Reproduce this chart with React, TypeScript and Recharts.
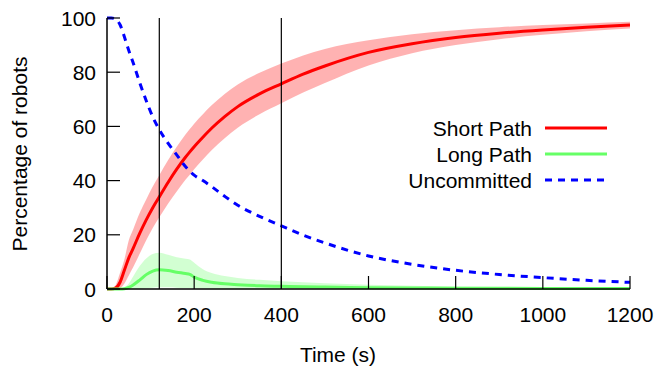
import React from 'react';
import { ComposedChart, Line, Area, XAxis, YAxis, ReferenceLine } from 'recharts';

const times = [0, 10, 20, 30, 40, 50, 60, 75, 90, 105, 120, 140, 160, 180, 190, 200, 220, 240, 270, 300, 350, 400, 450, 500, 600, 700, 800, 900, 1000, 1100, 1200];
const shortMean = [0, 0, 0.4, 2.5, 7, 11.5, 15, 20.5, 25.5, 30, 34, 39.3, 44.2, 48.6, 50.6, 52.5, 56, 59.3, 63.6, 67.3, 72, 75.7, 79.3, 82.3, 87.3, 90.5, 92.8, 94.4, 95.6, 96.6, 97.4];
const shortLow = [0, 0, 0, 0.3, 2, 5, 8, 13, 18, 22.5, 26.5, 31.5, 36, 40.3, 42.2, 44.2, 47.8, 51.2, 55.6, 59.5, 64.5, 68.5, 72.5, 76, 82.5, 87, 90, 92.2, 93.8, 95.1, 96.1];
const shortHigh = [0, 0, 1.5, 6, 11, 18, 22, 28, 33, 37.8, 42, 47.5, 52.5, 57, 59, 61, 64.5, 67.8, 72, 75.5, 79.8, 83.2, 86.2, 88.6, 91.8, 94, 95.5, 96.6, 97.4, 98, 98.6];
const longMean = [0, 0, 0, 0, 0.1, 0.6, 1.5, 3.3, 5.3, 6.6, 7.1, 6.8, 6.2, 5.7, 5.4, 4.4, 3.2, 2.5, 1.9, 1.6, 1.2, 1, 0.8, 0.7, 0.5, 0.4, 0.3, 0.25, 0.2, 0.2, 0.15];
const longLow = [0, 0, 0, 0, 0, 0, 0, 0.1, 0.3, 0.5, 0.6, 0.6, 0.5, 0.4, 0.4, 0.3, 0.2, 0.1, 0, 0, 0, 0, 0, 0, 0, 0, 0, 0, 0, 0, 0];
const longHigh = [0, 0, 0, 0.1, 0.6, 2, 4.6, 8.5, 11.3, 12.9, 13.4, 12.6, 11.7, 11.2, 10.9, 9.7, 7.3, 5.9, 4.8, 4.1, 3.4, 2.9, 2.5, 2.1, 1.6, 1.2, 0.9, 0.7, 0.5, 0.4, 0.3];
const uncommitted = [100, 100, 99.6, 97.5, 93, 88, 83.5, 76.2, 69.5, 63.5, 58.8, 53.8, 49.5, 45.2, 43.5, 42, 40, 37.8, 34.2, 30.9, 26.8, 23.3, 19.9, 17, 12.2, 9.1, 6.9, 5.35, 4.2, 3.2, 2.45];

const xTicks = [0, 200, 400, 600, 800, 1000, 1200];
const yTicks = [0, 20, 40, 60, 80, 100];
const markerTimes = [120, 400];
const legendItems = [
  { label: 'Short Path', color: '#ff0000', dash: undefined as string | undefined },
  { label: 'Long Path', color: '#66ff66', dash: undefined as string | undefined },
  { label: 'Uncommitted', color: '#0000ff', dash: '7 6' },
];

const data = times.map((t, i) => ({
  t,
  sMean: shortMean[i],
  sBand: [shortLow[i], shortHigh[i]],
  lMean: longMean[i],
  lBand: [longLow[i], longHigh[i]],
  unc: uncommitted[i],
}));

const FONT = '"Liberation Sans", Arial, sans-serif';
const FS = 21;
const TICK_LEN = 13;

const BottomTick = (props: any) => {
  const { x, y, payload } = props;
  return (
    <g>
      <line x1={x} y1={y} x2={x} y2={y - TICK_LEN} stroke="#000" strokeWidth={1.2} />
      <text x={x} y={y + 33} textAnchor="middle" fontSize={FS} fontFamily={FONT} fill="#000">
        {payload.value}
      </text>
    </g>
  );
};
const TopTick = (props: any) => {
  const { x, y } = props;
  return <line x1={x} y1={y} x2={x} y2={y + TICK_LEN} stroke="#000" strokeWidth={1.2} />;
};
const LeftTick = (props: any) => {
  const { x, y, payload } = props;
  return (
    <g>
      <line x1={x} y1={y} x2={x + TICK_LEN} y2={y} stroke="#000" strokeWidth={1.2} />
      <text x={x - 11} y={y + 7.5} textAnchor="end" fontSize={FS} fontFamily={FONT} fill="#000">
        {payload.value}
      </text>
    </g>
  );
};
const RightTick = (props: any) => {
  const { x, y } = props;
  return <line x1={x} y1={y} x2={x - TICK_LEN} y2={y} stroke="#000" strokeWidth={1.2} />;
};

export default function App() {
  return (
    <div style={{ position: 'absolute', left: 0, top: 0, width: 663, height: 366, background: '#fff' }}>
      <ComposedChart width={663} height={366} data={data} margin={{ top: 18, right: 33, bottom: 0, left: 0 }}>
        <XAxis
          xAxisId="b"
          dataKey="t"
          type="number"
          domain={[0, 1200]}
          ticks={xTicks}
          tickSize={0}
          tickMargin={0}
          tick={<BottomTick />}
          tickLine={false}
          axisLine={{ stroke: '#000', strokeWidth: 1.5 }}
          height={77}
        />
        <XAxis
          xAxisId="t"
          orientation="top"
          dataKey="t"
          type="number"
          domain={[0, 1200]}
          ticks={xTicks}
          tickSize={0}
          tickMargin={0}
          tick={<TopTick />}
          tickLine={false}
          axisLine={{ stroke: '#000', strokeWidth: 1.5 }}
          height={0}
        />
        <YAxis
          yAxisId="l"
          type="number"
          domain={[0, 100]}
          ticks={yTicks}
          tickSize={0}
          tickMargin={0}
          tick={<LeftTick />}
          tickLine={false}
          axisLine={{ stroke: '#000', strokeWidth: 1.5 }}
          width={107}
        />
        <YAxis
          yAxisId="r"
          orientation="right"
          type="number"
          domain={[0, 100]}
          ticks={yTicks}
          tickSize={0}
          tickMargin={0}
          tick={<RightTick />}
          tickLine={false}
          axisLine={{ stroke: '#000', strokeWidth: 1.5 }}
          width={0}
        />
        <Area xAxisId="b" yAxisId="l" type="monotone" dataKey="sBand" stroke="none" fill="#ff0000" fillOpacity={0.3} isAnimationActive={false} />
        <Area xAxisId="b" yAxisId="l" type="monotone" dataKey="lBand" stroke="none" fill="#33ff33" fillOpacity={0.22} isAnimationActive={false} />
        <Line xAxisId="b" yAxisId="l" type="monotone" dataKey="sMean" stroke="#ff0000" strokeWidth={3} dot={false} isAnimationActive={false} />
        <Line xAxisId="b" yAxisId="l" type="monotone" dataKey="lMean" stroke="#66ff66" strokeWidth={3} dot={false} isAnimationActive={false} />
        <Line xAxisId="b" yAxisId="l" type="monotone" dataKey="unc" stroke="#0000ff" strokeWidth={3} strokeDasharray="7 6" dot={false} isAnimationActive={false} />
        {markerTimes.map((m) => (
          <ReferenceLine key={m} xAxisId="b" yAxisId="l" x={m} stroke="#000" strokeWidth={1.2} />
        ))}
      </ComposedChart>
      <svg width={663} height={366} style={{ position: 'absolute', left: 0, top: 0, pointerEvents: 'none' }}>
        {legendItems.map((it, i) => (
          <g key={it.label}>
            <text x={532} y={128 + i * 26 + 7.5} textAnchor="end" fontSize={FS} fontFamily={FONT} fill="#000">
              {it.label}
            </text>
            <line x1={545} x2={607} y1={128 + i * 26} y2={128 + i * 26} stroke={it.color} strokeWidth={3} strokeDasharray={it.dash} />
          </g>
        ))}
        <text x={338} y={362} textAnchor="middle" fontSize={FS} fontFamily={FONT} fill="#000">
          Time (s)
        </text>
        <text
          x={0}
          y={0}
          transform="translate(27,154) rotate(-90)"
          textAnchor="middle"
          fontSize={FS}
          fontFamily={FONT}
          fill="#000"
        >
          Percentage of robots
        </text>
      </svg>
    </div>
  );
}
